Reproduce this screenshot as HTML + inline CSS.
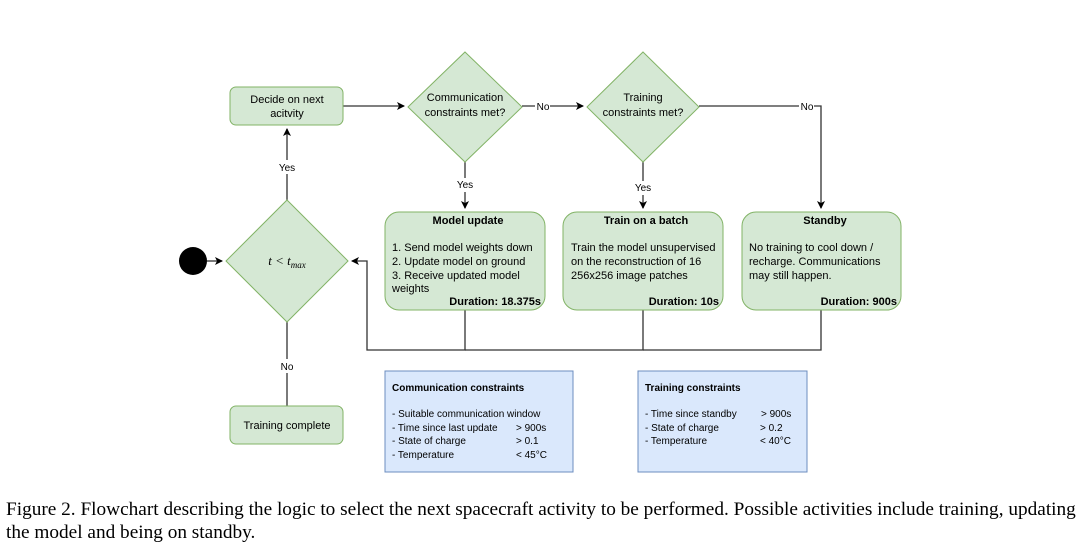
<!DOCTYPE html>
<html><head><meta charset="utf-8"><style>
body{margin:0;background:#fff;width:1078px;height:544px;overflow:hidden}
svg text{font-family:"Liberation Sans",sans-serif;fill:#000}
.cap{position:absolute;left:6px;top:498px;font-family:"Liberation Serif",serif;font-size:19.3px;line-height:23px;width:1072px;white-space:nowrap}
</style></head><body>
<svg width="1078" height="544" style="position:absolute;left:0;top:0">
<defs><marker id="a" markerWidth="8" markerHeight="8" refX="7" refY="4" orient="auto" markerUnits="userSpaceOnUse"><path d="M0,0 L8,4 L0,8 L2,4z" fill="#000"/></marker></defs>
<g stroke="#333" stroke-width="1.3" fill="none">
<line x1="343" y1="106" x2="404" y2="106" marker-end="url(#a)"/>
<line x1="522" y1="106" x2="583" y2="106" marker-end="url(#a)"/>
<polyline points="699,106 821,106 821,208" marker-end="url(#a)"/>
<line x1="465" y1="162" x2="465" y2="208" marker-end="url(#a)"/>
<line x1="643" y1="162" x2="643" y2="208" marker-end="url(#a)"/>
<line x1="287" y1="200" x2="287" y2="129" marker-end="url(#a)"/>
<line x1="207" y1="261" x2="222" y2="261" marker-end="url(#a)"/>
<polyline points="465,310 465,350 367,350 367,261 352,261" marker-end="url(#a)"/>
<polyline points="643,310 643,350 465,350"/>
<polyline points="821,310 821,350 643,350"/>
<line x1="287" y1="322" x2="287" y2="406"/>
</g>
<g fill="#fff" font-size="10">
<rect x="276" y="160" width="22" height="14"/><text x="287" y="171" text-anchor="middle">Yes</text>
<rect x="453" y="178" width="24" height="14"/><text x="465" y="188" text-anchor="middle">Yes</text>
<rect x="631" y="181" width="24" height="14"/><text x="643" y="191" text-anchor="middle">Yes</text>
<rect x="535" y="99" width="15" height="14"/><text x="543" y="110" text-anchor="middle">No</text>
<rect x="799" y="99" width="15" height="14"/><text x="807" y="110" text-anchor="middle">No</text>
<rect x="279" y="359" width="16" height="14"/><text x="287" y="370" text-anchor="middle">No</text>
</g>
<g fill="#d5e8d4" stroke="#82b366">
<rect x="230" y="87" width="113" height="38" rx="6"/>
<polygon points="465,52 522,107 465,162 408,107"/>
<polygon points="643,52 699,107 643,162 587,107"/>
<polygon points="287,200 348,261 287,322 226,261"/>
<rect x="385" y="212" width="160" height="98" rx="14"/>
<rect x="563" y="212" width="160" height="98" rx="14"/>
<rect x="742" y="212" width="159" height="98" rx="14"/>
<rect x="230" y="406" width="113" height="38" rx="6"/>
</g>
<circle cx="193" cy="261" r="14" fill="#000"/>
<g fill="#dae8fc" stroke="#6c8ebf"><rect x="385" y="371" width="188" height="101"/><rect x="638" y="371" width="169" height="101"/></g>
<g font-size="11">
<text x="287" y="103" text-anchor="middle">Decide on next</text>
<text x="287" y="117" text-anchor="middle">acitvity</text>
<text x="465" y="101" text-anchor="middle">Communication</text>
<text x="465" y="116" text-anchor="middle">constraints met?</text>
<text x="643" y="101" text-anchor="middle">Training</text>
<text x="643" y="116" text-anchor="middle">constraints met?</text>
<text x="287" y="429" text-anchor="middle">Training complete</text>
<text x="287" y="265" text-anchor="middle" style="font-family:'Liberation Serif',serif;font-style:italic;font-size:13px">t &lt; t<tspan font-size="9" dy="3">max</tspan></text>
<text x="468" y="224" text-anchor="middle" font-weight="bold">Model update</text>
<text x="392" y="251">1. Send model weights down</text>
<text x="392" y="265">2. Update model on ground</text>
<text x="392" y="279">3. Receive updated model</text>
<text x="392" y="292">weights</text>
<text x="541" y="305" text-anchor="end" font-weight="bold">Duration: 18.375s</text>
<text x="646" y="224" text-anchor="middle" font-weight="bold">Train on a batch</text>
<text x="571" y="251">Train the model unsupervised</text>
<text x="571" y="265">on the reconstruction of 16</text>
<text x="571" y="279">256x256 image patches</text>
<text x="719" y="305" text-anchor="end" font-weight="bold">Duration: 10s</text>
<text x="825" y="224" text-anchor="middle" font-weight="bold">Standby</text>
<text x="749" y="251">No training to cool down /</text>
<text x="749" y="265">recharge. Communications</text>
<text x="749" y="279">may still happen.</text>
<text x="897" y="305" text-anchor="end" font-weight="bold">Duration: 900s</text>
</g>
<g font-size="10">
<text x="392" y="391" font-weight="bold">Communication constraints</text>
<text x="392" y="417">- Suitable communication window</text>
<text x="392" y="431">- Time since last update</text><text x="516" y="431">&gt; 900s</text>
<text x="392" y="444">- State of charge</text><text x="516" y="444">&gt; 0.1</text>
<text x="392" y="458">- Temperature</text><text x="516" y="458">&lt; 45°C</text>
<text x="645" y="391" font-weight="bold">Training constraints</text>
<text x="645" y="417">- Time since standby</text><text x="761" y="417">&gt; 900s</text>
<text x="645" y="431">- State of charge</text><text x="760" y="431">&gt; 0.2</text>
<text x="645" y="444">- Temperature</text><text x="760" y="444">&lt; 40°C</text>
</g>
</svg>
<div class="cap">Figure 2. Flowchart describing the logic to select the next spacecraft activity to be performed. Possible activities include training, updating<br>the model and being on standby.</div>
</body></html>
